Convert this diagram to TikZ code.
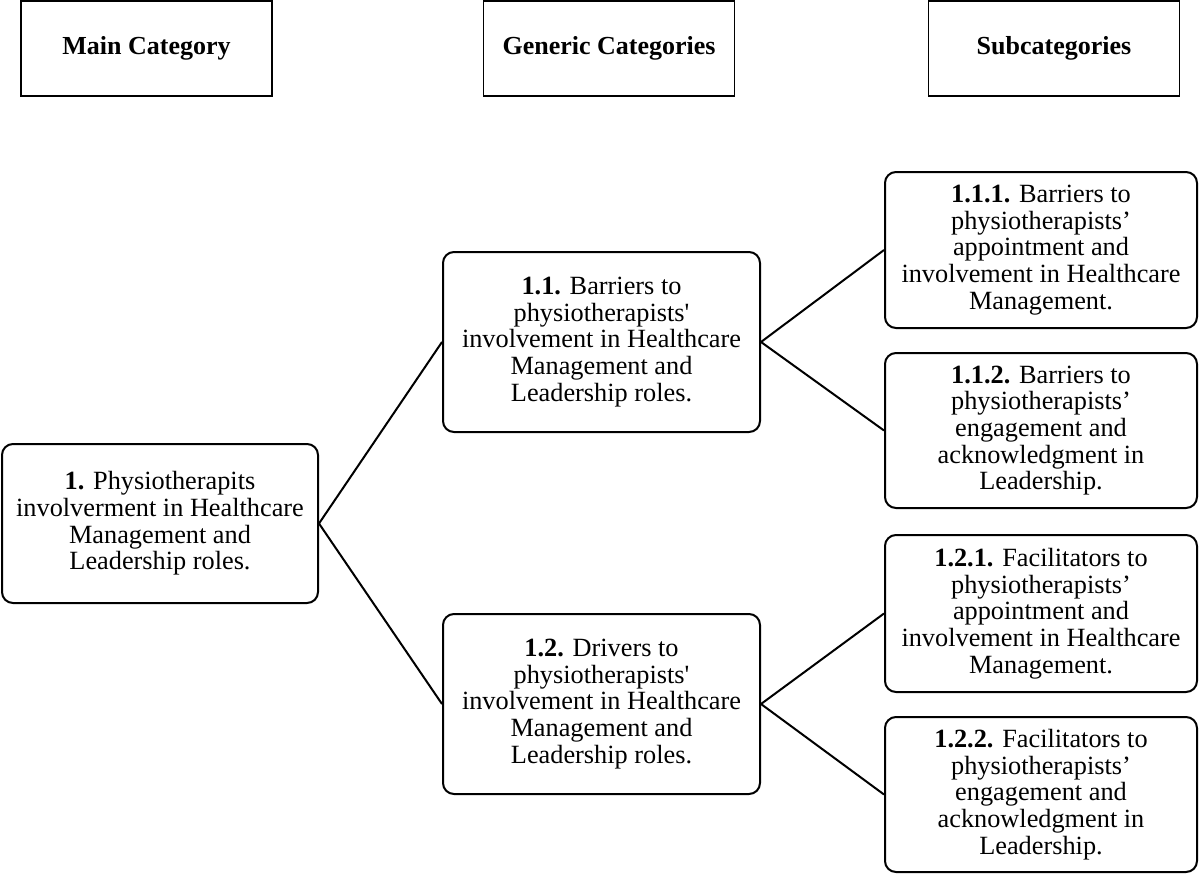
\documentclass[tikz,border=0pt]{standalone}
\usepackage{fontspec}
\setmainfont{Liberation Serif}
\begin{document}
\begin{tikzpicture}[x=1pt,y=-1pt,
  hdr/.style={draw,line width=1.8pt,minimum width=251pt,minimum height=95pt,inner sep=0pt,font=\fontsize{26}{26.5}\selectfont\bfseries},
  cat/.style={draw,line width=2pt,rounded corners=11pt,inner sep=0pt,align=center,font=\fontsize{26.3}{26.7}\selectfont},
  link/.style={line width=2pt}]
\useasboundingbox (0,0) rectangle (1199,875);
\node[hdr] (h1) at (146.5,48.5) {Main Category};
\node[hdr] (h2) at (609,48.5) {Generic Categories};
\node[hdr] (h3) at (1054,48.5) {Subcategories};

\node[cat,minimum width=316pt,minimum height=159pt] (c1) at (160,523.5)
  {\textbf{1.} Physiotherapits\\involverment in Healthcare\\Management and\\Leadership roles.};
\node[cat,minimum width=317pt,minimum height=180pt] (c11) at (601.5,342)
  {\textbf{1.1.} Barriers to\\physiotherapists\textquotesingle\\involvement in Healthcare\\Management and\\Leadership roles.};
\node[cat,minimum width=317pt,minimum height=180pt] (c12) at (601.5,704)
  {\textbf{1.2.} Drivers to\\physiotherapists\textquotesingle\\involvement in Healthcare\\Management and\\Leadership roles.};
\node[cat,minimum width=312pt,minimum height=156pt] (c111) at (1041,250)
  {\textbf{1.1.1.} Barriers to\\physiotherapists’\\appointment and\\involvement in Healthcare\\Management.};
\node[cat,minimum width=312pt,minimum height=155pt] (c112) at (1041,430.5)
  {\textbf{1.1.2.} Barriers to\\physiotherapists’\\engagement and\\acknowledgment in\\Leadership.};
\node[cat,minimum width=312pt,minimum height=157pt] (c121) at (1041,613.5)
  {\textbf{1.2.1.} Facilitators to\\physiotherapists’\\appointment and\\involvement in Healthcare\\Management.};
\node[cat,minimum width=312pt,minimum height=155pt] (c122) at (1041,794.5)
  {\textbf{1.2.2.} Facilitators to\\physiotherapists’\\engagement and\\acknowledgment in\\Leadership.};

\draw[link] (c1.east) -- (c11.west);
\draw[link] (c1.east) -- (c12.west);
\draw[link] (c11.east) -- (c111.west);
\draw[link] (c11.east) -- (c112.west);
\draw[link] (c12.east) -- (c121.west);
\draw[link] (c12.east) -- (c122.west);
\end{tikzpicture}
\end{document}
